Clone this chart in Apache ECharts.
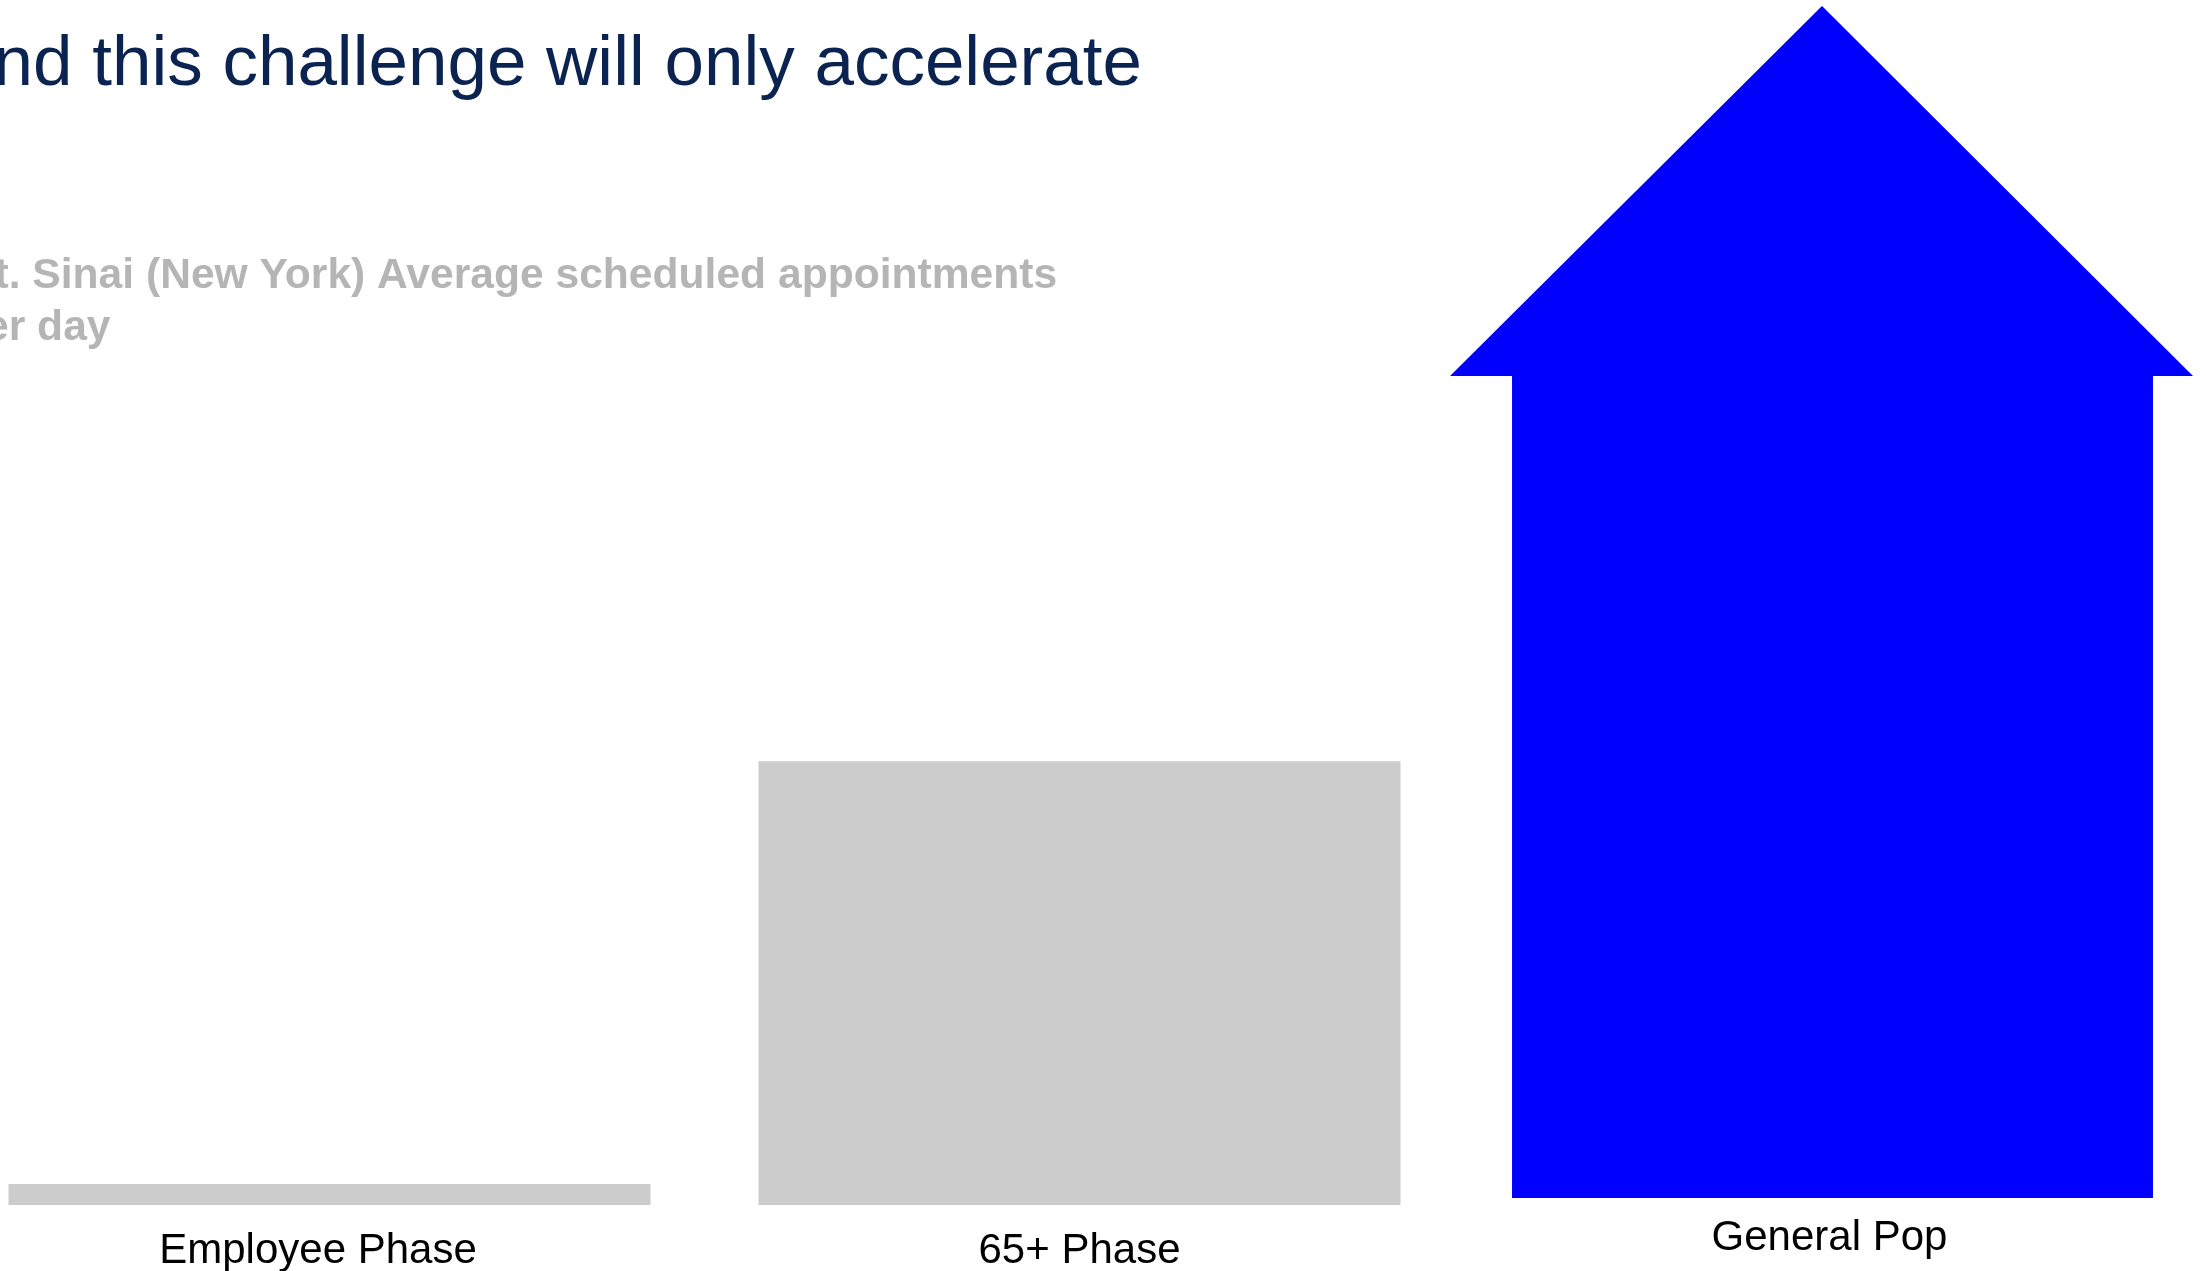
<!DOCTYPE html>
<html>
<head>
<meta charset="utf-8">
<script src="https://cdn.jsdelivr.net/npm/echarts@6/dist/echarts.min.js"></script>
<style>
html,body{margin:0;padding:0;background:#fff;}
#chart{width:2206px;height:1271px;}
</style>
</head>
<body>
<div id="chart"></div>
<script>
// ---- data ----
const titleText = 'and this challenge will only accelerate';
const subtitleText = 'Mt. Sinai (New York) Average scheduled appointments\nper day';
const categories = ['Employee Phase', '65+ Phase', 'General Pop'];
const appointmentsPerDay = [105, 2220, 6000];   // last one drawn as growth arrow
const arrowIndex = 2;

// ---- chart ----
const chart = echarts.init(document.getElementById('chart'));
const FONT = '"Liberation Sans", Arial, Helvetica, sans-serif';

const barData = appointmentsPerDay.map((v, i) => i === arrowIndex ? '-' : v);
const arrowData = appointmentsPerDay.map((v, i) => i === arrowIndex ? [i, v] : null).filter(d => d);

function renderArrow(params, api) {
  const idx = api.value(0);
  const val = api.value(1);
  const base = api.coord([idx, 0]);
  const tip = api.coord([idx, val]);
  const band = api.size([1, 0])[0];
  const cx = base[0];
  const bottom = base[1] - 7;
  const total = bottom - tip[1];
  const headBase = tip[1] + total * 0.3105;
  const sL = cx - band * 0.4233, sR = cx + band * 0.4313;
  const hL = cx - band * 0.506, hR = cx + band * 0.4847;
  const tx = cx - band * 0.01;
  return {
    type: 'polygon',
    shape: { points: [[sL, bottom], [sL, headBase], [hL, headBase], [tx, tip[1]], [hR, headBase], [sR, headBase], [sR, bottom]] },
    style: { fill: '#0000ff' }
  };
}

chart.setOption({
  animation: false,
  backgroundColor: '#ffffff',
  title: [
    {
      text: titleText,
      left: -46, top: 30, padding: 0,
      textStyle: { fontFamily: FONT, fontSize: 71, fontWeight: 'normal', color: '#0a2350', lineHeight: 71 }
    },
    {
      text: subtitleText,
      left: -41, top: 250, padding: 0,
      textStyle: { fontFamily: FONT, fontSize: 42.6, fontWeight: 'bold', color: '#b5b5b5', lineHeight: 52 }
    }
  ],
  grid: { left: -45.5, width: 2250, top: 6, bottom: 66, containLabel: false, outerBoundsMode: 'none' },
  xAxis: {
    type: 'category',
    data: categories,
    axisLine: { show: false },
    axisTick: { show: false },
    splitLine: { show: false },
    axisLabel: {
      margin: 21,
      interval: 0,
      hideOverlap: false,
      formatter: function (v, i) {
        if (i === 0) return '{e|' + v + '}';
        if (i === arrowIndex) return '{g|' + v + '}';
        return '{n|' + v + '}';
      },
      rich: {
        n: { fontFamily: FONT, fontSize: 42, color: '#000', lineHeight: 50 },
        e: { fontFamily: FONT, fontSize: 42, color: '#000', lineHeight: 50, padding: [0, 23, 0, 0] },
        g: { fontFamily: FONT, fontSize: 42, color: '#000', lineHeight: 24 }
      }
    }
  },
  yAxis: { type: 'value', min: 0, max: 6000, show: false, splitLine: { show: false } },
  series: [
    {
      type: 'bar',
      data: barData,
      barWidth: 642,
      itemStyle: { color: '#cccccc' }
    },
    {
      type: 'custom',
      data: arrowData,
      renderItem: renderArrow,
      encode: { x: 0, y: 1 }
    }
  ]
});
</script>
</body>
</html>
